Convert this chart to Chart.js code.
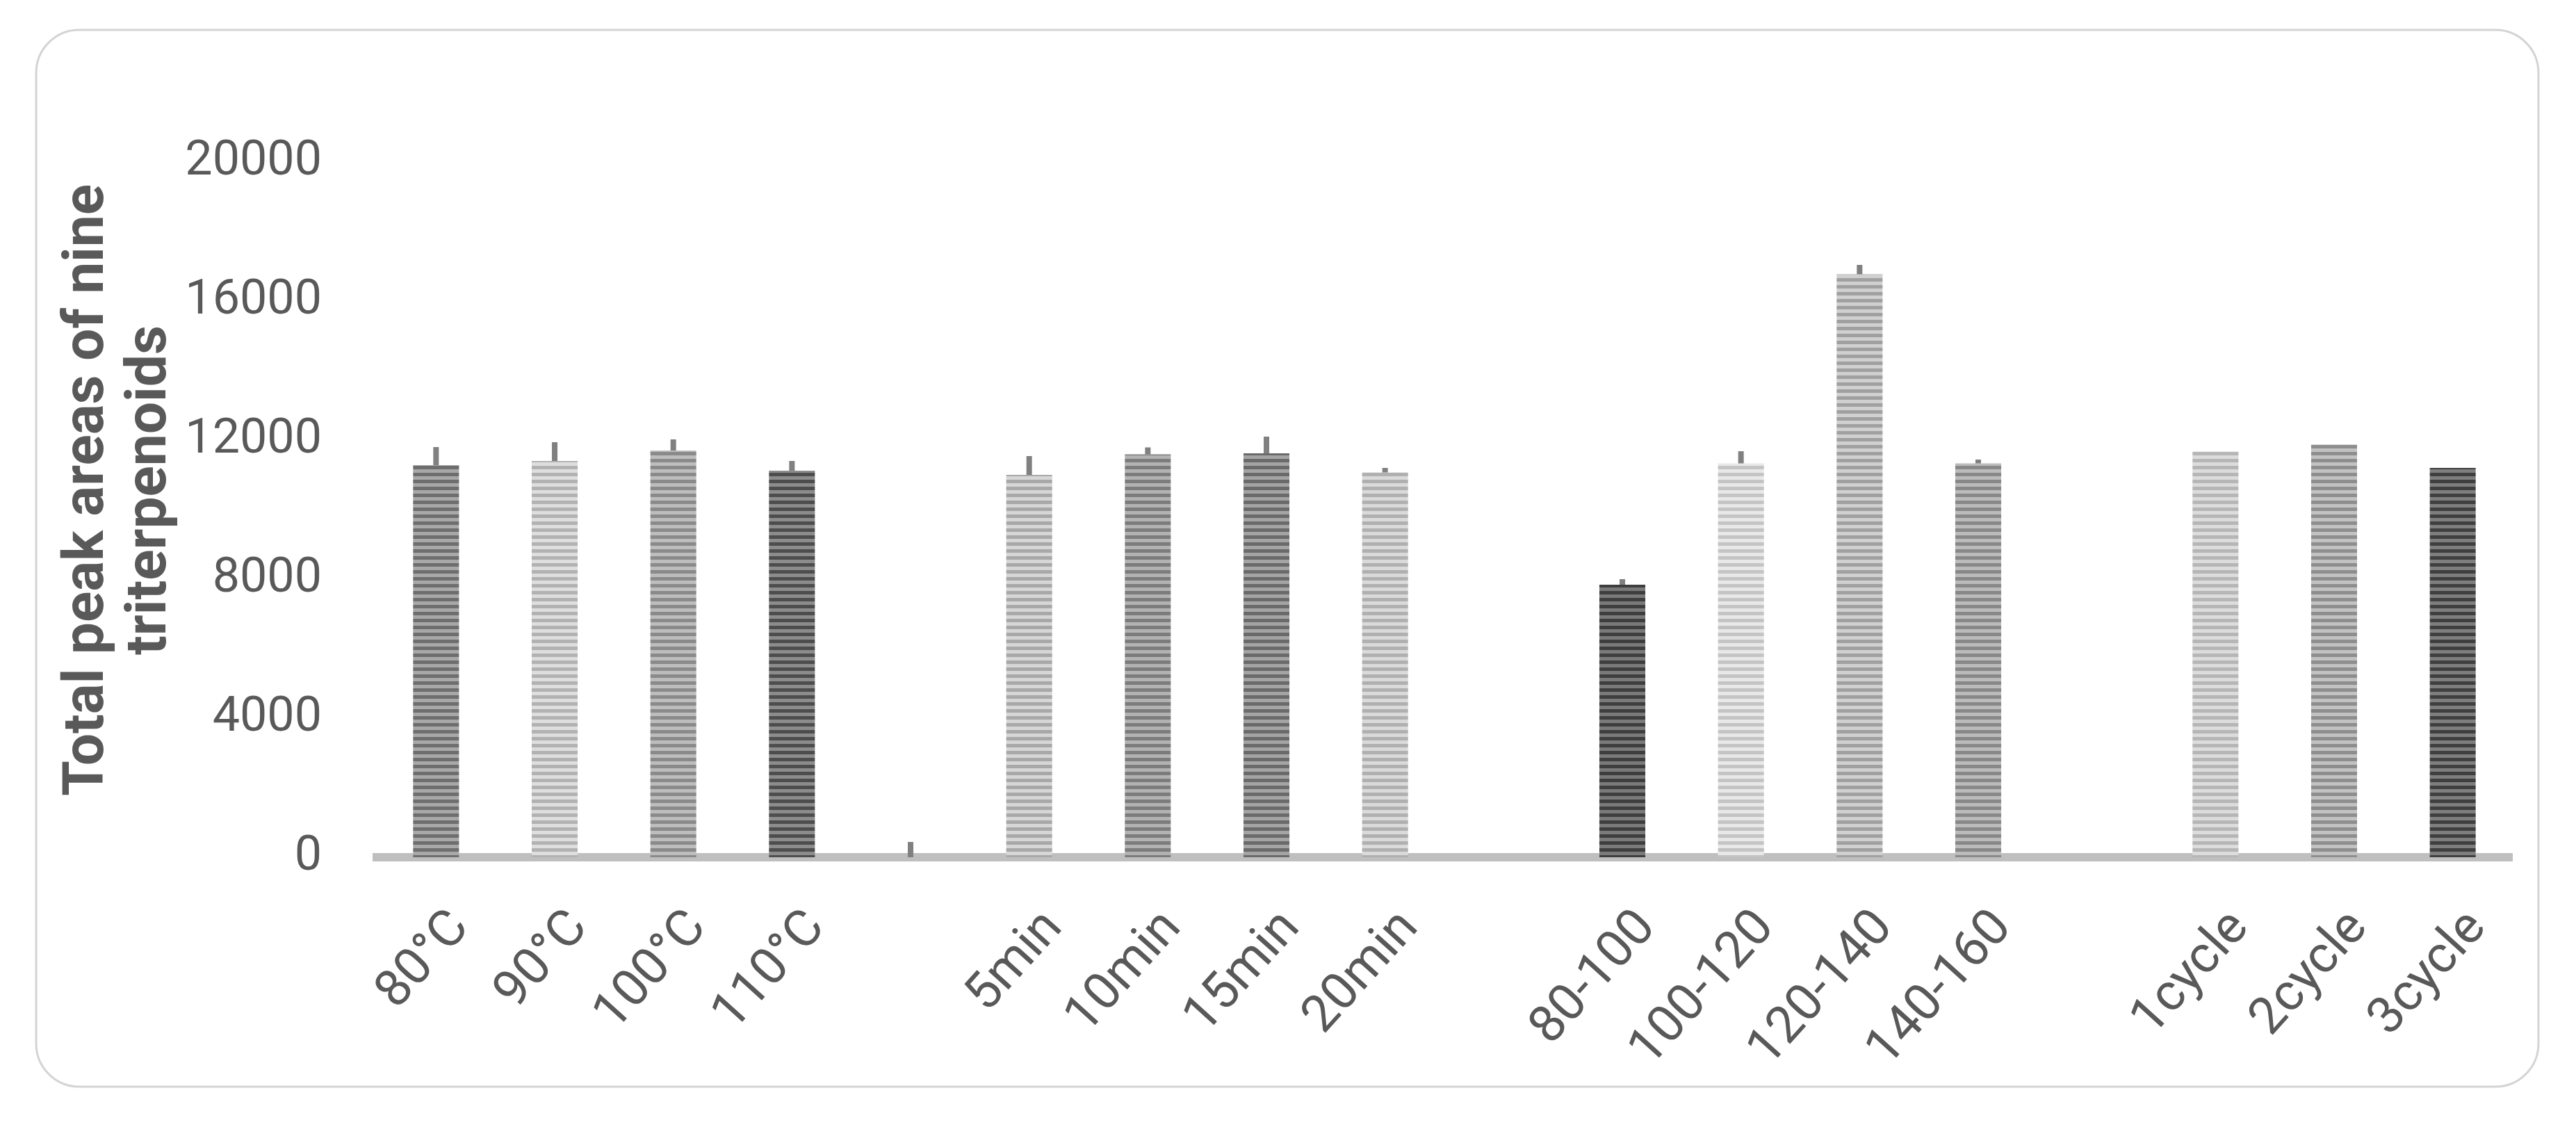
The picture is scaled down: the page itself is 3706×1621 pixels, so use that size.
<!DOCTYPE html>
<html lang="en">

<head>
  <meta charset="UTF-8" />
  <title>Total peak areas of nine triterpenoids</title>
  <style>
    body {
      margin: 0;
      background: #ffffff;
    }
  </style>
</head>

<body>
  <canvas id="grafico" width="3706" height="1621"></canvas>

  <script src="https://cdn.jsdelivr.net/npm/chart.js"></script>
  <script>
    const categorias = ['80°C', '90°C', '100°C', '110°C', '', '5min', '10min', '15min', '20min', '',
      '80-100', '100-120', '120-140', '140-160', '', '1cycle', '2cycle', '3cycle'];
    const valores = [11280, 11400, 11700, 11120, 0, 11000, 11590, 11620, 11070, null,
      7840, 11330, 16770, 11330, null, 11670, 11870, 11200];
    const erros = [520, 540, 320, 280, 440, 540, 200, 480, 130, null,
      160, 350, 270, 110, null, 0, 0, 0];
    const ticksY = [0, 4000, 8000, 12000, 16000, 20000];
    const tituloY = ['Total peak areas of nine', 'triterpenoids'];

    // stripe tones per bar (dark, light)
    const tons = [
      ['#6e6e6e', '#a8a8a8'], ['#b2b2b2', '#dedede'], ['#8a8a8a', '#bdbdbd'], ['#4d4d4d', '#8c8c8c'],
      ['#999999', '#cccccc'], ['#a8a8a8', '#d6d6d6'], ['#7c7c7c', '#b2b2b2'], ['#6a6a6a', '#a4a4a4'],
      ['#b0b0b0', '#dadada'], ['#999999', '#cccccc'], ['#3e3e3e', '#7a7a7a'], ['#c4c4c4', '#e8e8e8'],
      ['#a0a0a0', '#d0d0d0'], ['#888888', '#bbbbbb'], ['#999999', '#cccccc'], ['#b6b6b6', '#dcdcdc'],
      ['#8e8e8e', '#c2c2c2'], ['#3f3f3f', '#7e7e7e']
    ];

    function listras(escuro, claro) {
      const c = document.createElement('canvas');
      c.width = 4;
      c.height = 10;
      const g = c.getContext('2d');
      g.fillStyle = claro;
      g.fillRect(0, 0, 4, 10);
      g.fillStyle = escuro;
      g.fillRect(0, 0, 4, 5);
      return g.createPattern(c, 'repeat');
    }

    const moldura = {
      id: 'moldura',
      beforeDraw(chart) {
        const ctx = chart.ctx;
        ctx.save();
        ctx.fillStyle = '#ffffff';
        ctx.fillRect(0, 0, chart.width, chart.height);
        ctx.strokeStyle = '#d4d4d4';
        ctx.lineWidth = 3;
        ctx.beginPath();
        ctx.roundRect(52, 43, 3600, 1520, 62);
        ctx.stroke();
        ctx.restore();
      },
      afterDraw(chart) {
        // y axis title, two bold lines rotated
        const ctx = chart.ctx;
        ctx.save();
        ctx.translate(127, 705);
        ctx.rotate(-Math.PI / 2);
        ctx.fillStyle = '#595959';
        ctx.font = 'bold 82px Roboto';
        ctx.textAlign = 'center';
        ctx.textBaseline = 'middle';
        tituloY.forEach((linha, i) => ctx.fillText(linha, 0, i * 90));
        ctx.restore();
      }
    };

    const barrasErro = {
      id: 'barrasErro',
      afterDatasetsDraw(chart) {
        const ctx = chart.ctx;
        const y = chart.scales.y;
        const meta = chart.getDatasetMeta(0);
        ctx.save();
        ctx.strokeStyle = '#808080';
        ctx.lineWidth = 8;
        for (let i = 0; i < valores.length; i++) {
          if (valores[i] == null || !erros[i]) continue;
          const x = meta.data[i].x;
          ctx.beginPath();
          ctx.moveTo(x, y.getPixelForValue(valores[i]));
          ctx.lineTo(x, y.getPixelForValue(valores[i] + erros[i]));
          ctx.stroke();
        }
        ctx.restore();
      }
    };

    const dados = {
      labels: categorias,
      datasets: [{
        data: valores,
        backgroundColor: tons.map(t => listras(t[0], t[1])),
        borderWidth: 0,
        barPercentage: 1,
        categoryPercentage: 0.387
      }]
    };

    const config = {
      type: 'bar',
      data: dados,
      options: {
        responsive: false,
        devicePixelRatio: 1,
        animation: false,
        layout: {
          padding: { top: 233, right: 92, left: 0, bottom: 0 }
        },
        plugins: {
          legend: { display: false },
          tooltip: { enabled: false }
        },
        scales: {
          x: {
            grid: { display: false },
            border: { display: true, color: '#bfbfbf', width: 12 },
            ticks: {
              color: '#595959',
              font: { family: 'Roboto', size: 74 },
              minRotation: 48,
              maxRotation: 48,
              autoSkip: false,
              padding: 52,
              labelOffset: 36
            },
            afterFit(scale) {
              scale.height = 388;
              scale.paddingLeft = 0;
              scale.paddingRight = 0;
            }
          },
          y: {
            min: 0,
            max: 20000,
            grid: { display: false },
            border: { display: false },
            afterBuildTicks(scale) {
              scale.ticks = ticksY.map(v => ({ value: v }));
            },
            ticks: {
              color: '#595959',
              font: { family: 'Roboto', size: 70 },
              padding: 71,
              callback: v => String(v)
            },
            afterFit(scale) {
              scale.width = 542;
              scale.paddingTop = 0;
              scale.paddingBottom = 0;
            }
          }
        }
      },
      plugins: [moldura, barrasErro]
    };

    new Chart(document.getElementById('grafico'), config);
  </script>
</body>

</html>
